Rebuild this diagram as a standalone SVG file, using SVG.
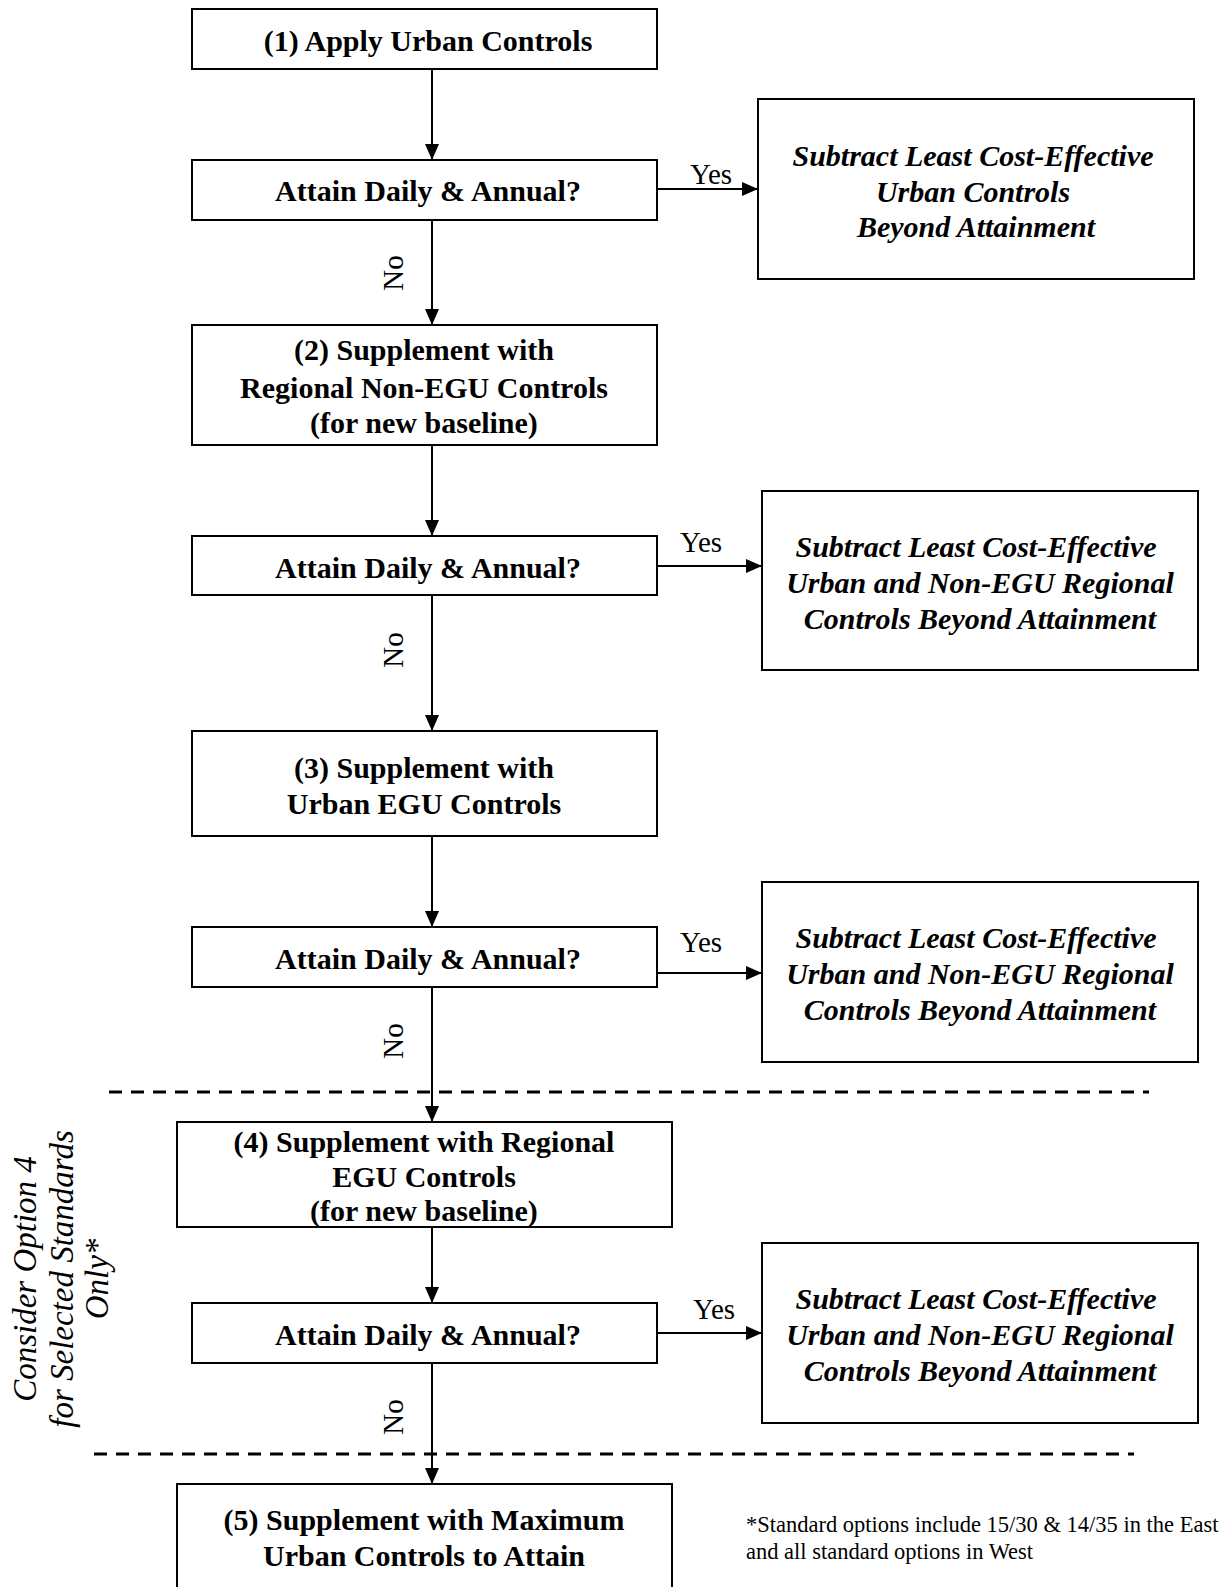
<svg xmlns="http://www.w3.org/2000/svg" width="1231" height="1587" viewBox="0 0 1231 1587">
<style>
.box{fill:#fff;stroke:#000;stroke-width:2}
.b{font-family:"Liberation Serif","Times New Roman",serif;font-weight:bold;font-size:30px;text-anchor:middle;fill:#000}
.i{font-family:"Liberation Serif","Times New Roman",serif;font-weight:bold;font-style:italic;font-size:30px;text-anchor:middle;fill:#000}
.r{font-family:"Liberation Serif","Times New Roman",serif;font-size:29px;text-anchor:middle;fill:#000}
.side{font-family:"Liberation Serif","Times New Roman",serif;font-style:italic;font-size:33px;text-anchor:middle;fill:#000}
.note{font-family:"Liberation Serif","Times New Roman",serif;font-size:22.5px;fill:#000}
.ln{stroke:#000;stroke-width:2;fill:none}
.dash{stroke:#000;stroke-width:3;stroke-dasharray:13 9;fill:none}
</style>
<defs>
<marker id="ah" viewBox="0 0 16 14" refX="16" refY="7" markerWidth="16" markerHeight="14" markerUnits="userSpaceOnUse" orient="auto">
<path d="M0,0 L16,7 L0,14 Z" fill="#000"/>
</marker>
</defs>
<g id="dividers">
<line class="dash" x1="109" y1="1092" x2="1149" y2="1092"/>
<line class="dash" x1="94" y1="1454" x2="1134" y2="1454"/>
</g>
<g id="connectors">
<line class="ln" x1="432" y1="69" x2="432" y2="160" marker-end="url(#ah)"/>
<line class="ln" x1="432" y1="220" x2="432" y2="325" marker-end="url(#ah)"/>
<line class="ln" x1="432" y1="445" x2="432" y2="536" marker-end="url(#ah)"/>
<line class="ln" x1="432" y1="595" x2="432" y2="731" marker-end="url(#ah)"/>
<line class="ln" x1="432" y1="836" x2="432" y2="927" marker-end="url(#ah)"/>
<line class="ln" x1="432" y1="987" x2="432" y2="1122" marker-end="url(#ah)"/>
<line class="ln" x1="432" y1="1227" x2="432" y2="1303" marker-end="url(#ah)"/>
<line class="ln" x1="432" y1="1363" x2="432" y2="1484" marker-end="url(#ah)"/>
<line class="ln" x1="657" y1="189" x2="758" y2="189" marker-end="url(#ah)"/>
<line class="ln" x1="657" y1="566" x2="762" y2="566" marker-end="url(#ah)"/>
<line class="ln" x1="657" y1="973" x2="762" y2="973" marker-end="url(#ah)"/>
<line class="ln" x1="657" y1="1333" x2="762" y2="1333" marker-end="url(#ah)"/>
<text class="r" x="711" y="184">Yes</text>
<text class="r" x="701" y="552">Yes</text>
<text class="r" x="701" y="952">Yes</text>
<text class="r" x="714" y="1319">Yes</text>
<text class="r" transform="translate(393,273) rotate(-90)" x="0" y="10">No</text>
<text class="r" transform="translate(393,650) rotate(-90)" x="0" y="10">No</text>
<text class="r" transform="translate(393,1041) rotate(-90)" x="0" y="10">No</text>
<text class="r" transform="translate(393,1417) rotate(-90)" x="0" y="10">No</text>
</g>
<g id="n1"><rect class="box" x="192" y="9" width="465" height="60"/><text class="b" x="428" y="51">(1) Apply Urban Controls</text></g>
<g id="q1"><rect class="box" x="192" y="160" width="465" height="60"/><text class="b" x="428" y="201">Attain Daily &amp; Annual?</text></g>
<g id="s1"><rect class="box" x="758" y="99" width="436" height="180"/>
<text class="i" x="973" y="166">Subtract Least Cost-Effective</text>
<text class="i" x="973" y="202">Urban Controls</text>
<text class="i" x="976" y="237">Beyond Attainment</text></g>
<g id="n2"><rect class="box" x="192" y="325" width="465" height="120"/>
<text class="b" x="424" y="360">(2) Supplement with</text>
<text class="b" x="424" y="398">Regional Non-EGU Controls</text>
<text class="b" x="424" y="433">(for new baseline)</text></g>
<g id="q2"><rect class="box" x="192" y="536" width="465" height="59"/><text class="b" x="428" y="578">Attain Daily &amp; Annual?</text></g>
<g id="s2"><rect class="box" x="762" y="491" width="436" height="179"/>
<text class="i" x="976" y="557">Subtract Least Cost-Effective</text>
<text class="i" x="980" y="593">Urban and Non-EGU Regional</text>
<text class="i" x="980" y="629">Controls Beyond Attainment</text></g>
<g id="n3"><rect class="box" x="192" y="731" width="465" height="105"/>
<text class="b" x="424" y="778">(3) Supplement with</text>
<text class="b" x="424" y="814">Urban EGU Controls</text></g>
<g id="q3"><rect class="box" x="192" y="927" width="465" height="60"/><text class="b" x="428" y="969">Attain Daily &amp; Annual?</text></g>
<g id="s3"><rect class="box" x="762" y="882" width="436" height="180"/>
<text class="i" x="976" y="948">Subtract Least Cost-Effective</text>
<text class="i" x="980" y="984">Urban and Non-EGU Regional</text>
<text class="i" x="980" y="1020">Controls Beyond Attainment</text></g>
<g id="n4"><rect class="box" x="177" y="1122" width="495" height="105"/>
<text class="b" x="424" y="1152">(4) Supplement with Regional</text>
<text class="b" x="424" y="1187">EGU Controls</text>
<text class="b" x="424" y="1221">(for new baseline)</text></g>
<g id="q4"><rect class="box" x="192" y="1303" width="465" height="60"/><text class="b" x="428" y="1345">Attain Daily &amp; Annual?</text></g>
<g id="s4"><rect class="box" x="762" y="1243" width="436" height="180"/>
<text class="i" x="976" y="1309">Subtract Least Cost-Effective</text>
<text class="i" x="980" y="1345">Urban and Non-EGU Regional</text>
<text class="i" x="980" y="1381">Controls Beyond Attainment</text></g>
<g id="n5"><rect class="box" x="177" y="1484" width="495" height="120"/>
<text class="b" x="424" y="1530">(5) Supplement with Maximum</text>
<text class="b" x="424" y="1566">Urban Controls to Attain</text></g>
<g id="side-note">
<text class="side" transform="rotate(-90)" x="-1279" y="36">Consider Option 4</text>
<text class="side" transform="rotate(-90)" x="-1279" y="73">for Selected Standards</text>
<text class="side" transform="rotate(-90)" x="-1279" y="108">Only*</text>
</g>
<g id="footnote">
<text class="note" x="746" y="1532">*Standard options include 15/30 &amp; 14/35 in the East</text>
<text class="note" x="746" y="1559">and all standard options in West</text>
</g>
</svg>
